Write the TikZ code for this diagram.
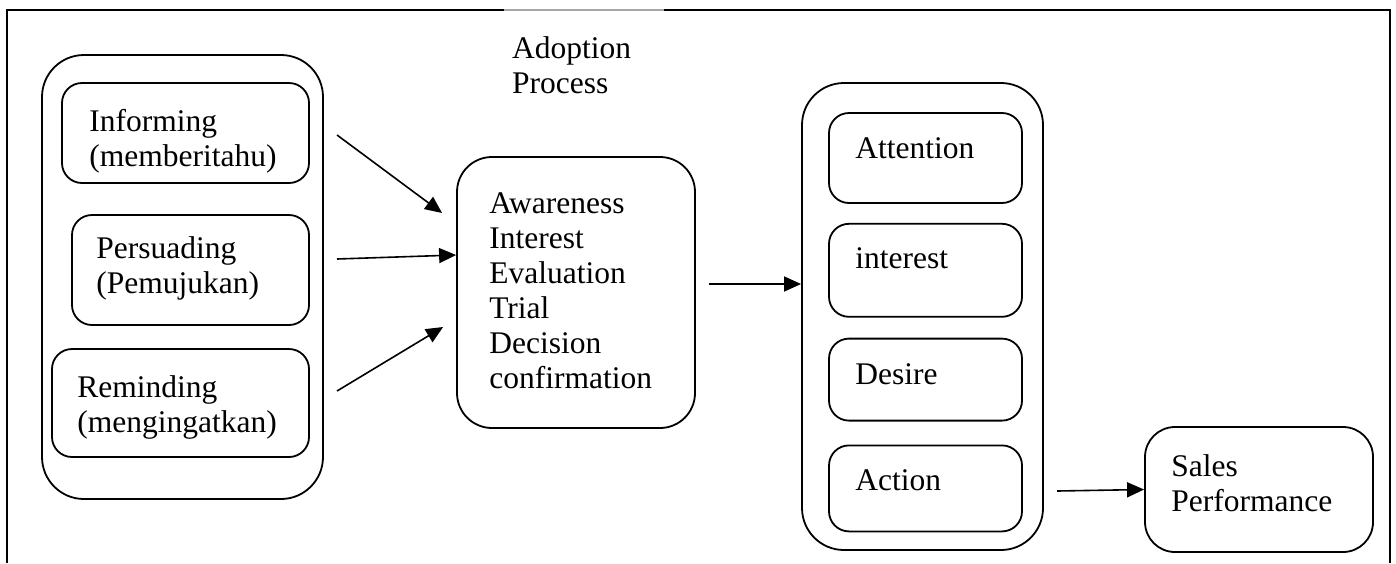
\documentclass[tikz,border=0pt]{standalone}
\usepackage{fontspec}
\setmainfont{Liberation Serif}
\usetikzlibrary{positioning,arrows.meta}
\tikzstyle{arrow} = [line width=1.6pt,-{Triangle[length=17pt,width=15pt]}]

\begin{document}
\begin{tikzpicture}[x=1pt,y=-1pt,node distance=19pt]
	\tikzstyle{box} = [rectangle, draw=black, line width=1.8pt, rounded corners=20pt, inner sep=0pt]
	\tikzstyle{group} = [box, rounded corners=42pt]
	\tikzstyle{txt} = [align=left, inner sep=0pt, font=\fontsize{31.5}{35}\selectfont]
	\useasboundingbox (0,0) rectangle (1396,563);
	% frame round the whole figure
	\draw [line width=2.6pt] (7,563) -- (7,10) -- (504,10);
	\draw [line width=2pt, black!35] (504,10) -- (664,10);
	\draw [line width=2.6pt] (664,10) -- (1390,10) -- (1390,563);
	% promotion goals
	\node (leftgrp) [group, minimum width=281pt, minimum height=444pt] at (182.5,277) {};
	\node (inform) [box, minimum width=247pt, minimum height=100pt] at (185.5,133) {};
	\node (persuade) [box, minimum width=237pt, minimum height=110pt] at (190.5,270) {};
	\node (remind) [box, minimum width=257pt, minimum height=108pt] at (180.5,403) {};
	\node (informtxt) [txt, right=28pt of inform.west, yshift=-8pt] {Informing\\(memberitahu)};
	\node (persuadetxt) [txt, right=25pt of persuade.west, yshift=2pt] {Persuading\\(Pemujukan)};
	\node (remindtxt) [txt, right=26pt of remind.west, yshift=-4pt] {Reminding\\(mengingatkan)};
	% adoption process
	\node (adopttxt) [txt, anchor=west] at (512,65) {Adoption\\Process};
	\node (stages) [box, rounded corners=35pt, minimum width=238pt, minimum height=271pt] at (576,292.5) {};
	\node (stagestxt) [txt, right=33pt of stages.west, yshift=1.5pt] {Awareness\\Interest\\Evaluation\\Trial\\Decision\\confirmation};
	% AIDA
	\node (rightgrp) [group, minimum width=241pt, minimum height=467pt] at (922.5,316.5) {};
	\node (attbox) [box, minimum width=193pt, minimum height=90pt] at (925.5,158) {};
	\node (intbox) [box, minimum width=193pt, minimum height=93pt, below=of attbox] {};
	\node (desbox) [box, minimum width=193pt, minimum height=82pt, below=20pt of intbox] {};
	\node (actbox) [box, minimum width=193pt, minimum height=86pt, below=23pt of desbox] {};
	\node (atttxt) [txt, right=27pt of attbox.west, yshift=10pt] {Attention};
	\node (inttxt) [txt, right=27pt of intbox.west, yshift=12pt] {interest};
	\node (destxt) [txt, right=27pt of desbox.west, yshift=5pt] {Desire};
	\node (acttxt) [txt, right=27pt of actbox.west, yshift=8pt] {Action};
	% result
	\node (sales) [box, rounded corners=30pt, minimum width=228pt, minimum height=125pt] at (1259,489.5) {};
	\node (salestxt) [txt, right=27pt of sales.west, yshift=6pt] {Sales\\Performance};
	% arrows
	\coordinate (s1) at (337,135);
	\coordinate (s2) at (337,259);
	\coordinate (s3) at (337,391);
	\coordinate (s5) at (1057,491);
	\draw [arrow] (s1) -- ([xshift=-14pt,yshift=79.5pt]stages.west);
	\draw [arrow] (s2) -- ([yshift=37.5pt]stages.west);
	\draw [arrow] (s3) -- ([xshift=-13pt,yshift=-34.5pt]stages.west);
	\draw [arrow] ([xshift=13pt,yshift=8.5pt]stages.east) -- ([yshift=32.5pt]rightgrp.west);
	\draw [arrow] (s5) -- (sales.west);
\end{tikzpicture}
\end{document}
